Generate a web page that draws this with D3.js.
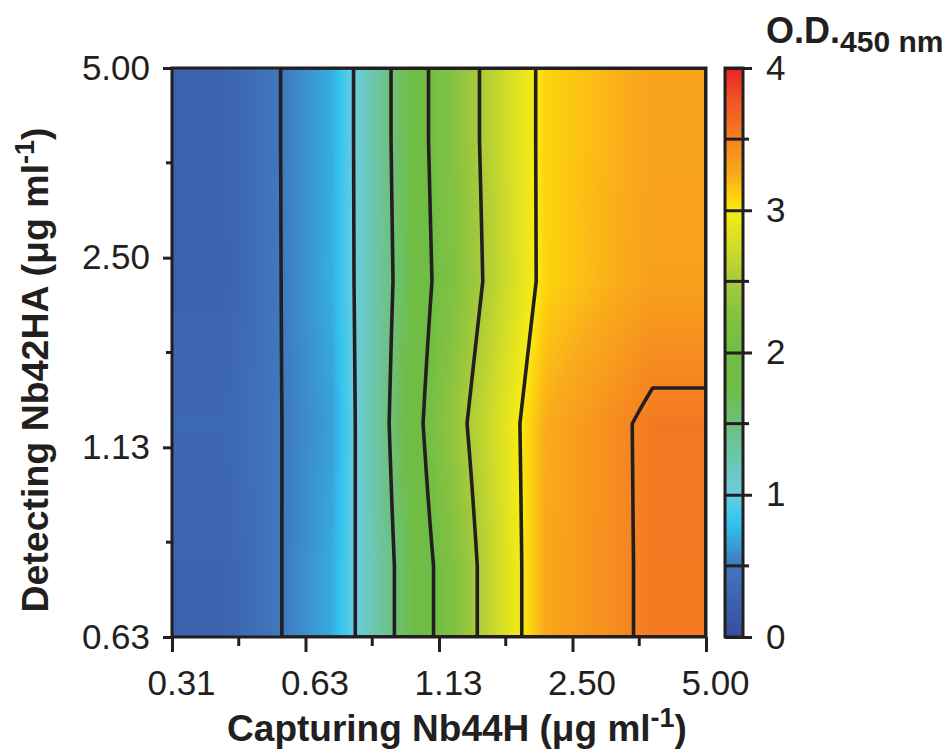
<!DOCTYPE html>
<html>
<head>
<meta charset="utf-8">
<script src="https://cdn.jsdelivr.net/npm/d3@7"></script>
<style>
  body { margin: 0; background: #fff; }
  text { font-family: "Liberation Sans", Arial, sans-serif; fill: #231f20; }
</style>
</head>
<body>
<div id="chart"></div>
<script>
// capturing Nb44H concentrations (x) and detecting Nb42HA concentrations (y)
var xCats = ["0.31", "0.63", "1.13", "2.50", "5.00"];
var yCats = ["0.63", "1.13", "2.50", "5.00"];

// O.D.450 per detecting concentration row, one value per capturing column
var od063 = [0.27, 0.705, 2.07, 3.27, 3.55];
var od113 = [0.32, 0.66, 2.235, 3.245, 3.56];
var od250 = [0.26, 0.72, 2.09, 3.09, 3.32];
var od500 = [0.27, 0.715, 2.14, 3.09, 3.30];
var rows = [od063, od113, od250, od500];

var levels = [0.5, 1, 1.5, 2, 2.5, 3, 3.5];
var barTicks = [0, 1, 2, 3, 4];
var barMinor = [0.5, 1.5, 2.5, 3.5];

// colour map of the scale bar
var cmapStops = [0, 0.5, 0.8, 1.0, 1.5, 1.75, 2.0, 2.25, 2.5, 2.75, 3.0, 3.1, 3.25, 3.5, 3.6, 3.75, 4.0];
var cmapColors = ["#3a4b9e", "#3f78bd", "#33c3ef", "#69cde0", "#6dc07c", "#6fbd45", "#6fbd45", "#82c241",
                  "#a8ca3a", "#d2dd28", "#f8ec12", "#fdd10f", "#f9ab1b", "#f58420", "#f26f23", "#f05a27", "#ec2125"];

var W = 948, H = 749;
var pL = 172, pR = 706, pT = 68, pB = 637;
var ink = "#231f20";

var color = d3.scaleLinear().domain(cmapStops).range(cmapColors).clamp(true);

var svg = d3.select("#chart").append("svg")
    .attr("width", W)
    .attr("height", H);

// node positions (cell centres) and label positions (edges)
var xBand = d3.scaleBand().domain(xCats).range([pL, pR]);
var yBand = d3.scaleBand().domain(yCats).range([pB, pT]);
var xPt = d3.scalePoint().domain(xCats).range([pL, pR]);
var yPt = d3.scalePoint().domain(yCats).range([pB, pT]);

var cx = xCats.map(d => xBand(d) + xBand.bandwidth() / 2);
var cy = yCats.map(d => yBand(d) + yBand.bandwidth() / 2);
var fxs = d3.scaleLinear().domain([cx[0], cx[cx.length - 1]]).range([0, cx.length - 1]).clamp(true);
var fys = d3.scaleLinear().domain([cy[0], cy[cy.length - 1]]).range([0, cy.length - 1]).clamp(true);

function valueAt(px, py) {
    var fx = fxs(px), fy = fys(py);
    var i = Math.min(Math.floor(fx), xCats.length - 2), j = Math.min(Math.floor(fy), yCats.length - 2);
    var tx = fx - i, ty = fy - j;
    var a = rows[j][i] * (1 - tx) + rows[j][i + 1] * tx;
    var b = rows[j + 1][i] * (1 - tx) + rows[j + 1][i + 1] * tx;
    return a * (1 - ty) + b * ty;
}

var nx = pR - pL, ny = pB - pT;
var grid = new Float64Array(nx * ny);
for (var j = 0; j < ny; j++) {
    for (var i = 0; i < nx; i++) {
        grid[j * nx + i] = valueAt(pL + i + 0.5, pT + j + 0.5);
    }
}

// filled map
var canvas = document.createElement("canvas");
canvas.width = nx; canvas.height = ny;
var ctx = canvas.getContext("2d");
var img = ctx.createImageData(nx, ny);
for (var k = 0; k < grid.length; k++) {
    var c = d3.rgb(color(grid[k]));
    img.data[k * 4] = c.r; img.data[k * 4 + 1] = c.g; img.data[k * 4 + 2] = c.b; img.data[k * 4 + 3] = 255;
}
ctx.putImageData(img, 0, 0);

svg.append("clipPath").attr("id", "plotclip")
  .append("rect").attr("x", pL).attr("y", pT).attr("width", nx).attr("height", ny);

svg.append("image")
    .attr("x", pL).attr("y", pT)
    .attr("width", nx).attr("height", ny)
    .attr("preserveAspectRatio", "none")
    .attr("href", canvas.toDataURL());

// contour lines
var contours = d3.contours().size([nx, ny]).thresholds(levels)(grid);
svg.append("g")
    .attr("clip-path", "url(#plotclip)")
  .append("g")
    .attr("transform", "translate(" + pL + "," + pT + ")")
  .selectAll("path")
  .data(contours)
  .enter().append("path")
    .attr("d", d3.geoPath())
    .attr("fill", "none")
    .attr("stroke", ink)
    .attr("stroke-width", 3.6)
    .attr("stroke-linejoin", "round");

// frame
svg.append("rect")
    .attr("x", pL).attr("y", pT).attr("width", nx).attr("height", ny)
    .attr("fill", "none").attr("stroke", ink).attr("stroke-width", 3);

// x axis
var xAxis = svg.append("g")
    .attr("transform", "translate(0," + pB + ")")
    .call(d3.axisBottom(xPt).tickSize(15).tickPadding(18));
xAxis.select(".domain").remove();
xAxis.selectAll("line").attr("stroke", ink).attr("stroke-width", 3);
xAxis.selectAll("text").attr("font-size", 35).attr("fill", ink).attr("dx", 9);
svg.append("g").selectAll("line")
    .data(xCats.slice(1))
    .enter().append("line")
    .attr("x1", (d, i) => (xPt(d) + xPt(xCats[i])) / 2)
    .attr("x2", (d, i) => (xPt(d) + xPt(xCats[i])) / 2)
    .attr("y1", pB).attr("y2", pB + 9)
    .attr("stroke", ink).attr("stroke-width", 3);

// y axis
var yAxis = svg.append("g")
    .attr("transform", "translate(" + pL + ",0)")
    .call(d3.axisLeft(yPt).tickSize(9).tickPadding(13));
yAxis.select(".domain").remove();
yAxis.selectAll("line").attr("stroke", ink).attr("stroke-width", 3);
yAxis.selectAll("text").attr("font-size", 35).attr("fill", ink);
svg.append("g").selectAll("line")
    .data(yCats.slice(1))
    .enter().append("line")
    .attr("y1", (d, i) => (yPt(d) + yPt(yCats[i])) / 2)
    .attr("y2", (d, i) => (yPt(d) + yPt(yCats[i])) / 2)
    .attr("x1", pL - 6).attr("x2", pL)
    .attr("stroke", ink).attr("stroke-width", 3);

// axis titles
var xt = svg.append("text")
    .attr("x", 457).attr("y", 741)
    .attr("text-anchor", "middle")
    .attr("font-size", 37).attr("font-weight", "bold");
xt.append("tspan").text("Capturing Nb44H (\u03bcg ml");
xt.append("tspan").attr("font-size", 27).attr("dy", -14).text("-1");
xt.append("tspan").attr("dy", 14).text(")");

var yt = svg.append("text")
    .attr("transform", "translate(48,370) rotate(-90)")
    .attr("text-anchor", "middle")
    .attr("font-size", 37.5).attr("font-weight", "bold");
yt.append("tspan").text("Detecting Nb42HA (\u03bcg ml");
yt.append("tspan").attr("font-size", 27).attr("dy", -14).text("-1");
yt.append("tspan").attr("dy", 14).text(")");

// colour bar
var barX = 725, barW = 18;
var bar = d3.scaleLinear().domain([0, 4]).range([pB, pT]);
var grad = svg.append("defs").append("linearGradient")
    .attr("id", "odgrad")
    .attr("x1", 0).attr("y1", 1).attr("x2", 0).attr("y2", 0);
grad.selectAll("stop")
    .data(cmapStops)
    .enter().append("stop")
    .attr("offset", d => d / 4)
    .attr("stop-color", d => color(d));
svg.append("rect")
    .attr("x", barX).attr("y", pT).attr("width", barW).attr("height", ny)
    .attr("fill", "url(#odgrad)")
    .attr("stroke", ink).attr("stroke-width", 3);

var barAxis = svg.append("g")
    .attr("transform", "translate(" + barX + ",0)")
    .call(d3.axisRight(bar).tickValues(barTicks).tickFormat(d3.format("d")).tickSize(barW + 9).tickPadding(14));
barAxis.select(".domain").remove();
barAxis.selectAll("line").attr("stroke", ink).attr("stroke-width", 3);
barAxis.selectAll("text").attr("font-size", 35).attr("fill", ink);
svg.append("g").selectAll("line")
    .data(barMinor)
    .enter().append("line")
    .attr("x1", barX).attr("x2", barX + barW + 6)
    .attr("y1", d => bar(d)).attr("y2", d => bar(d))
    .attr("stroke", ink).attr("stroke-width", 3);

var bt = svg.append("text")
    .attr("x", 766).attr("y", 43)
    .attr("font-size", 36).attr("font-weight", "bold");
bt.append("tspan").text("O.D.");
bt.append("tspan").attr("font-size", 30).attr("dy", 9).text("450 nm");
</script>
</body>
</html>
